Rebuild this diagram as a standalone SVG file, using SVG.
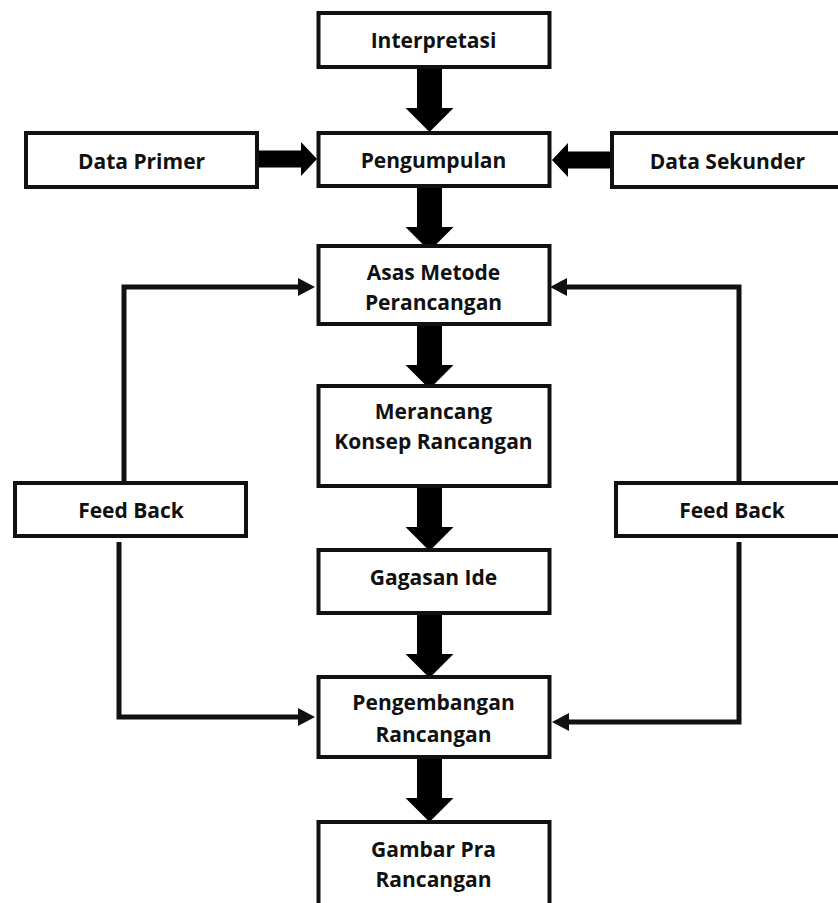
<svg xmlns="http://www.w3.org/2000/svg" xmlns:xlink="http://www.w3.org/1999/xlink" width="838" height="903" viewBox="0 0 838 903">
  <style>
    .box { fill: #ffffff; stroke: #111111; stroke-width: 4; }
    .lbl { font-family: "Open Sans", "Liberation Sans", sans-serif; font-weight: 700; font-size: 21px; fill: #111111; text-anchor: middle; }
    .fb { fill: none; stroke: #111111; stroke-width: 5; stroke-linejoin: miter; }
    .blk { fill: #000000; }
  </style>
  <defs>
    <marker id="head" markerUnits="userSpaceOnUse" markerWidth="18" markerHeight="19" refX="0" refY="9" orient="auto" overflow="visible">
      <path d="M0,0 L17,9 L0,18 Z" fill="#111111"/>
    </marker>
    <path id="varrow" d="M-12.5,0 L12.5,0 L12.5,39 L24,39 L0,63 L-24,39 L-12.5,39 Z"/>
    <path id="harrow" d="M0,-8.5 L43,-8.5 L43,-17 L59,0 L43,17 L43,8.5 L0,8.5 Z"/>
  </defs>

  <rect width="838" height="903" fill="#ffffff"/>

  <g id="connectors">
    <use xlink:href="#varrow" class="blk" transform="translate(429.5,69)"/>
    <use xlink:href="#varrow" class="blk" transform="translate(429.5,188)"/>
    <use xlink:href="#varrow" class="blk" transform="translate(429.5,326)"/>
    <use xlink:href="#varrow" class="blk" transform="translate(429.5,488)"/>
    <use xlink:href="#varrow" class="blk" transform="translate(429.5,615)"/>
    <use xlink:href="#varrow" class="blk" transform="translate(429.5,759)"/>
    <use xlink:href="#harrow" class="blk" transform="translate(258,159)"/>
    <use xlink:href="#harrow" class="blk" transform="translate(611,160) scale(-1,1)"/>
    <path class="fb" d="M124,481 L124,287 L298,287" marker-end="url(#head)"/>
    <path class="fb" d="M739,481 L739,287 L567,287" marker-end="url(#head)"/>
    <path class="fb" d="M119,542 L119,717 L298,717" marker-end="url(#head)"/>
    <path class="fb" d="M739,542 L739,722 L569,722" marker-end="url(#head)"/>
  </g>

  <g id="node-interpretasi">
    <rect class="box" x="318.5" y="13" width="231" height="54"/>
    <text class="lbl" x="433.5" y="48">Interpretasi</text>
  </g>
  <g id="node-data-primer">
    <rect class="box" x="26" y="133" width="231" height="54"/>
    <text class="lbl" x="141.5" y="169">Data Primer</text>
  </g>
  <g id="node-pengumpulan">
    <rect class="box" x="318.5" y="133" width="231" height="53"/>
    <text class="lbl" x="433.5" y="168">Pengumpulan</text>
  </g>
  <g id="node-data-sekunder">
    <rect class="box" x="612" y="133" width="240" height="54"/>
    <text class="lbl" x="727.5" y="169">Data Sekunder</text>
  </g>
  <g id="node-asas">
    <rect class="box" x="318.5" y="246" width="231" height="78"/>
    <text class="lbl" x="433.5" y="280">Asas Metode</text>
    <text class="lbl" x="433.5" y="310">Perancangan</text>
  </g>
  <g id="node-merancang">
    <rect class="box" x="318.5" y="386" width="231" height="100"/>
    <text class="lbl" x="433.5" y="419">Merancang</text>
    <text class="lbl" x="433.5" y="449">Konsep Rancangan</text>
  </g>
  <g id="node-feedback-left">
    <rect class="box" x="15" y="483" width="231" height="53"/>
    <text class="lbl" x="131" y="518">Feed Back</text>
  </g>
  <g id="node-feedback-right">
    <rect class="box" x="616" y="483" width="240" height="53"/>
    <text class="lbl" x="732" y="518">Feed Back</text>
  </g>
  <g id="node-gagasan">
    <rect class="box" x="318.5" y="550" width="231" height="63"/>
    <text class="lbl" x="433.5" y="585">Gagasan Ide</text>
  </g>
  <g id="node-pengembangan">
    <rect class="box" x="318.5" y="677" width="231" height="80"/>
    <text class="lbl" x="433.5" y="710">Pengembangan</text>
    <text class="lbl" x="433.5" y="742">Rancangan</text>
  </g>
  <g id="node-gambar">
    <rect class="box" x="318.5" y="822" width="231" height="100"/>
    <text class="lbl" x="433.5" y="857">Gambar Pra</text>
    <text class="lbl" x="433.5" y="887">Rancangan</text>
  </g>
</svg>
